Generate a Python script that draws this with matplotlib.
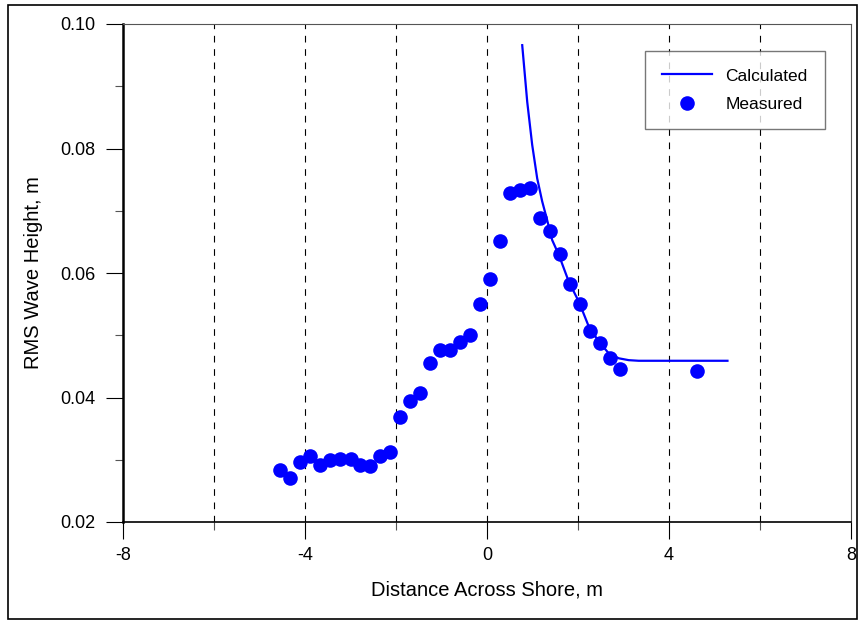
import matplotlib
matplotlib.use("Agg")
import matplotlib.pyplot as plt
from matplotlib.patches import Rectangle
from matplotlib.ticker import MultipleLocator, FormatStrFormatter

plt.rcParams["font.family"] = ["Liberation Sans", "DejaVu Sans"]
plt.rcParams["axes.unicode_minus"] = False

# Measured RMS wave height across the shore
measured_x = [-4.54, -4.32, -4.10, -3.88, -3.66, -3.44, -3.22, -3.00, -2.79, -2.57,
              -2.35, -2.13, -1.91, -1.69, -1.47, -1.25, -1.03, -0.81, -0.59, -0.37,
              -0.15, 0.07, 0.29, 0.50, 0.72, 0.94, 1.16, 1.38, 1.60, 1.82,
              2.04, 2.26, 2.48, 2.70, 2.92, 4.61]
measured_h = [0.0284, 0.0270, 0.0296, 0.0306, 0.0292, 0.0300, 0.0302, 0.0302, 0.0291, 0.0290,
              0.0306, 0.0313, 0.0369, 0.0394, 0.0408, 0.0455, 0.0477, 0.0477, 0.0489, 0.0500,
              0.0551, 0.0591, 0.0652, 0.0728, 0.0734, 0.0737, 0.0689, 0.0667, 0.0631, 0.0582,
              0.0551, 0.0507, 0.0488, 0.0463, 0.0445, 0.0442]

# Calculated RMS wave height
calc_x = [0.774, 0.884, 0.993, 1.103, 1.213, 1.322, 1.432, 1.579, 1.798, 2.018,
          2.237, 2.456, 2.675, 2.895, 3.114, 3.333, 5.285]
calc_h = [0.0966, 0.0875, 0.0806, 0.0752, 0.0715, 0.0685, 0.0653, 0.0629, 0.0586, 0.0554,
          0.0514, 0.0490, 0.0471, 0.0463, 0.0460, 0.0459, 0.0459]

x_major = [-8, -4, 0, 4, 8]
y_major = [0.02, 0.04, 0.06, 0.08, 0.10]
grid_x = [-6, -4, -2, 0, 2, 4, 6]

W, H = 858, 621
fig = plt.figure(figsize=(W / 100, H / 100), dpi=100)
ax = fig.add_axes([123 / W, 1 - 522 / H, (851 - 123) / W, (522 - 24) / H])

for gx in grid_x:
    ax.axvline(gx, color="black", lw=0.8, linestyle=(0, (6, 6)), zorder=1)

blue = "#0000ff"
ax.plot(calc_x, calc_h, color=blue, lw=1.6, label="Calculated", zorder=3)
ax.plot(measured_x, measured_h, linestyle="none", marker="o", ms=10.5,
        color=blue, markeredgewidth=0, label="Measured", zorder=4)

ax.set_xlim(-8, 8)
ax.set_ylim(0.02, 0.10)
ax.set_xticks(x_major)
ax.set_yticks(y_major)
ax.xaxis.set_minor_locator(MultipleLocator(2))
ax.yaxis.set_minor_locator(MultipleLocator(0.01))
ax.yaxis.set_major_formatter(FormatStrFormatter("%.2f"))

ax.tick_params(which="major", direction="out", length=12, width=0.8,
               labelsize=13, color="black")
ax.tick_params(axis="y", which="major", pad=8)
ax.tick_params(axis="x", which="major", pad=6)
ax.tick_params(which="minor", direction="out", length=6, width=0.8, color="#555555")

ax.spines["left"].set_linewidth(1.8)
ax.spines["left"].set_color("black")
ax.spines["bottom"].set_linewidth(1.2)
ax.spines["bottom"].set_color("black")
for s in ("top", "right"):
    ax.spines[s].set_linewidth(0.8)
    ax.spines[s].set_color("#555555")

ax.set_xlabel("Distance Across Shore, m", fontsize=14.5, labelpad=12)
ax.set_ylabel("RMS Wave Height, m", fontsize=14.5, labelpad=12)

leg = ax.legend(loc="upper right", bbox_to_anchor=(825 / W, 1 - 51 / H),
                bbox_transform=fig.transFigure, frameon=True, fancybox=False,
                fontsize=12.5, handlelength=2.9, handletextpad=0.75,
                borderpad=1.0, labelspacing=0.75, borderaxespad=0)
leg.get_frame().set_edgecolor("#555555")
leg.get_frame().set_linewidth(1.0)

fig.patches.append(Rectangle((8 / W, 2 / H), (W - 9) / W, (H - 7) / H,
                             transform=fig.transFigure, fill=False,
                             edgecolor="black", lw=1.2))

fig.savefig("out.png", dpi=100)
